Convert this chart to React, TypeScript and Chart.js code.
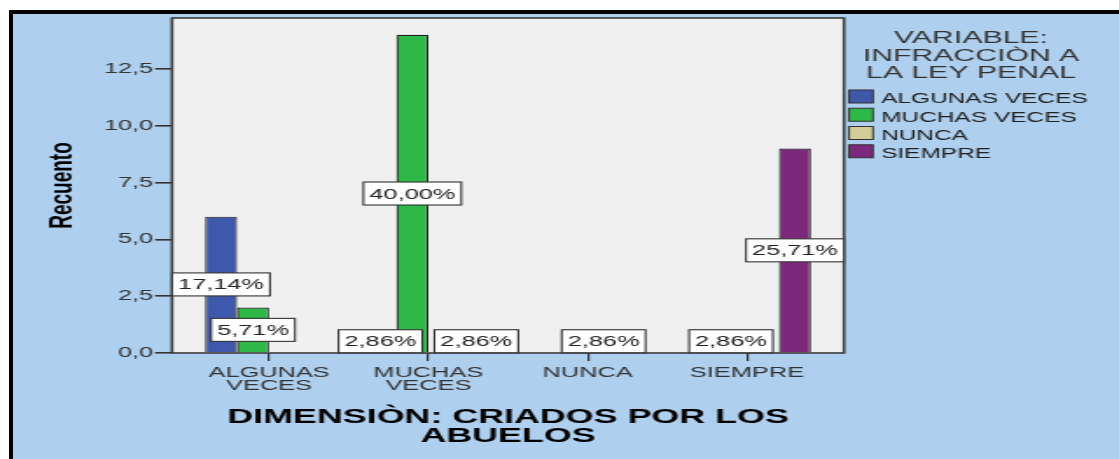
import { useEffect, useRef } from "react";
import { Chart, registerables } from "chart.js";

Chart.register(...registerables);

// ---- data ----
const categories: (string | string[])[] = [["ALGUNAS", "VECES"], ["MUCHAS", "VECES"], "NUNCA", "SIEMPRE"];
const seriesNames = ["ALGUNAS VECES", "MUCHAS VECES", "NUNCA", "SIEMPRE"];
const seriesColors = ["#3E58AC", "#2EB848", "#D3CE97", "#7C287D"];
const algunasVeces = [6, 1, null, null];
const muchasVeces = [2, 14, null, 1];
const nunca = [null, null, 1, null];
const siempre = [null, 1, null, 9];
const yTicks = [0, 2.5, 5, 7.5, 10, 12.5];
const xTitle = ["DIMENSIÒN: CRIADOS POR LOS", "ABUELOS"];
const yTitle = "Recuento";
const legendTitle = ["VARIABLE:", "INFRACCIÒN A", "LA LEY PENAL"];

const seriesValues = [algunasVeces, muchasVeces, nunca, siempre];

// canvas is drawn narrow and stretched horizontally (like the reference)
const CW = 640;
const CH = 459;
const PAGE_W = 1119;
const K = PAGE_W / CW;
const px = (v: number) => v / K;

const FONT = "'Liberation Sans', Arial, sans-serif";

export default function App() {
  const ref = useRef<HTMLCanvasElement>(null);

  useEffect(() => {
    const canvas = ref.current;
    if (!canvas) return;
    Chart.defaults.font.family = FONT;

    const total = seriesValues.flat().reduce((a: number, v) => a + (v ?? 0), 0);

    const plotBg = {
      id: "plotBg",
      beforeDraw(chart: any) {
        const { ctx, chartArea: a } = chart;
        ctx.save();
        ctx.fillStyle = "#F0F0F0";
        ctx.fillRect(a.left, a.top, a.right - a.left, a.bottom - a.top);
        ctx.restore();
      },
    };

    const frameAndLabels = {
      id: "frameAndLabels",
      afterDatasetsDraw(chart: any) {
        const { ctx, chartArea: a } = chart;
        ctx.save();
        ctx.strokeStyle = "#3a3a3a";
        ctx.lineWidth = 1.6;
        ctx.strokeRect(a.left, a.top, a.right - a.left, a.bottom - a.top);

        ctx.font = `14.5px ${FONT}`;
        ctx.textAlign = "center";
        ctx.textBaseline = "middle";
        chart.data.datasets.forEach((ds: any, di: number) => {
          const meta = chart.getDatasetMeta(di);
          meta.data.forEach((el: any, i: number) => {
            const v = ds.data[i].y;
            if (v == null) return;
            const txt = ((v / total) * 100).toFixed(2).replace(".", ",") + "%";
            const { x, y, base } = el.getProps(["x", "y", "base"], true);
            const cy = (y + base) / 2;
            const tw = ctx.measureText(txt).width;
            const bw = tw + 2 * 3.4;
            const bh = 23;
            ctx.fillStyle = "#ffffff";
            ctx.fillRect(x - bw / 2, cy - bh / 2, bw, bh);
            ctx.strokeStyle = "#333";
            ctx.lineWidth = 1.1;
            ctx.strokeRect(x - bw / 2, cy - bh / 2, bw, bh);
            ctx.fillStyle = "#222";
            ctx.fillText(txt, x, cy + 1);
          });
        });
        ctx.restore();
      },
    };

    const customLegend = {
      id: "customLegend",
      afterDraw(chart: any) {
        const { ctx } = chart;
        ctx.save();
        ctx.fillStyle = "#333";
        ctx.font = `17.3px ${FONT}`;
        ctx.textAlign = "center";
        ctx.textBaseline = "alphabetic";
        const baselines = [43, 61, 78];
        legendTitle.forEach((t, i) => ctx.fillText(t, px(971), baselines[i]));

        ctx.font = `14px ${FONT}`;
        ctx.textAlign = "left";
        chart.data.datasets.forEach((ds: any, i: number) => {
          const top = 90 + i * 18.25;
          ctx.fillStyle = ds.backgroundColor;
          ctx.fillRect(px(849), top, px(873) - px(849), 13);
          ctx.strokeStyle = "#333";
          ctx.lineWidth = 1;
          ctx.strokeRect(px(849), top, px(873) - px(849), 13);
          ctx.fillStyle = "#222";
          ctx.fillText(ds.label, px(881), 103.3 + i * 18.25);
        });
        ctx.restore();
      },
    };

    const chart = new Chart(canvas, {
      type: "bar",
      data: {
        datasets: seriesNames.map((name, si) => ({
          label: name,
          data: seriesValues[si]
            .map((v, i) => ({ x: i, y: v }))
            .filter((p) => p.y != null) as any,
          backgroundColor: seriesColors[si],
          borderColor: "#222",
          borderWidth: 1.2,
          borderSkipped: "start",
          categoryPercentage: 0.803,
          barPercentage: 1,
        })),
      },
      options: {
        responsive: false,
        animation: false,
        devicePixelRatio: 1,
        layout: { padding: { left: 0, right: CW - px(844), top: 18, bottom: 0 } },
        plugins: {
          legend: { display: false },
          tooltip: { enabled: false },
          title: { display: false },
        },
        scales: {
          x: {
            type: "linear",
            min: -0.609,
            max: 3.609,
            bounds: "data",
            offset: false,
            afterBuildTicks: (s: any) => {
              s.ticks = categories.map((_, i) => ({ value: i }));
            },
            afterFit: (s: any) => {
              s.height = CH - 353;
            },
            ticks: {
              callback: (v: any) => categories[Math.round(Number(v))] as any,
              autoSkip: false,
              maxRotation: 0,
              minRotation: 0,
              font: { size: 14.5, lineHeight: 0.9 },
              color: "#333",
              padding: 5,
            },
            grid: {
              offset: false,
              drawOnChartArea: false,
              drawTicks: true,
              tickLength: 8,
              color: "#333",
              lineWidth: 1.2,
            },
            border: { display: false },
            title: {
              display: true,
              text: xTitle,
              font: { size: 20.5, weight: "bold", lineHeight: 0.917 },
              color: "#000",
              padding: { top: 0, bottom: 13 },
            },
          },
          y: {
            min: 0,
            max: 14.74,
            bounds: "data",
            afterBuildTicks: (s: any) => {
              s.ticks = yTicks.map((v) => ({ value: v }));
            },
            afterFit: (s: any) => {
              s.width = px(172);
            },
            ticks: {
              callback: (v: any) => Number(v).toFixed(1).replace(".", ","),
              font: { size: 14.5 },
              color: "#333",
              padding: 1,
            },
            grid: { drawOnChartArea: false, drawTicks: true, tickLength: px(17), color: "#333", lineWidth: 1.6 },
            border: { display: false },
            title: {
              display: true,
              text: yTitle,
              font: { size: 19, weight: "bold" },
              color: "#000",
              padding: { top: 24, bottom: 0 },
            },
          },
        },
      } as any,
      plugins: [plotBg, frameAndLabels, customLegend],
    });

    return () => chart.destroy();
  }, []);

  return (
    <div
      style={{
        position: "fixed",
        left: 0,
        top: 0,
        width: PAGE_W,
        height: CH,
        background: "#ffffff",
        overflow: "hidden",
      }}
    >
      <div
        style={{
          position: "absolute",
          left: 9,
          top: 10,
          width: 1200,
          height: 500,
          borderLeft: "4px solid #000",
          borderTop: "4px solid #000",
          background: "#AECFEE",
        }}
      />
      <canvas
        ref={ref}
        width={CW}
        height={CH}
        style={{ position: "absolute", left: 0, top: 0, width: PAGE_W + "px", height: CH + "px" }}
      />
    </div>
  );
}
